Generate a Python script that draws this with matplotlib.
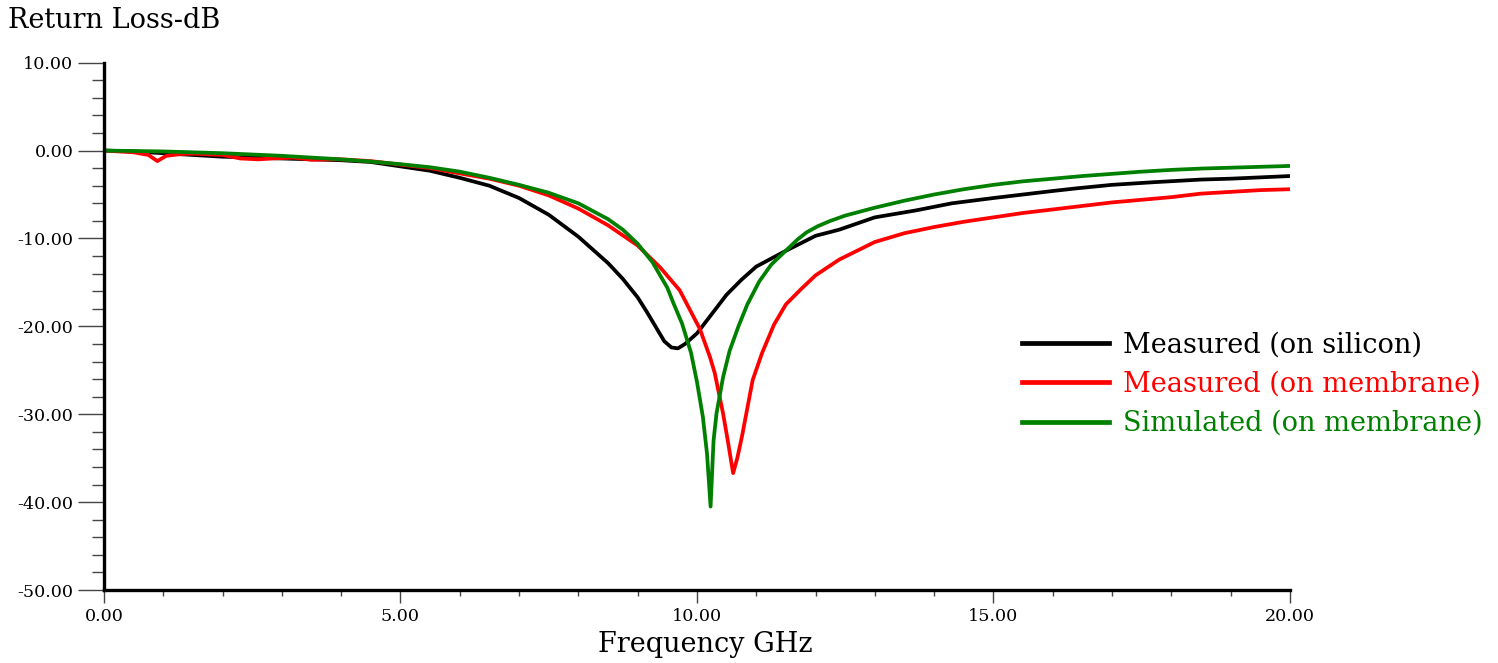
import matplotlib
matplotlib.use("Agg")
import matplotlib.pyplot as plt
from matplotlib.ticker import MultipleLocator, FormatStrFormatter

plt.rcParams['font.family'] = ['DejaVu Serif']

# Measured return loss, sample on silicon
freq_si = [0.0, 0.5, 1.0, 1.5, 2.0, 2.5, 3.0, 3.5, 4.0, 4.5, 5.0, 5.5, 6.0, 6.5,
           7.0, 7.5, 8.0, 8.5, 8.75, 9.0, 9.15, 9.3, 9.45, 9.57, 9.68, 9.8, 10.0,
           10.25, 10.5, 10.75, 11.0, 11.5, 12.0, 12.4, 13.0, 13.7, 14.3, 15.0,
           15.5, 16.0, 16.4, 17.0, 17.7, 18.5, 19.0, 20.0]
s11_si = [0.0, -0.1, -0.3, -0.5, -0.7, -0.8, -0.9, -1.0, -1.1, -1.3, -1.8, -2.3,
          -3.1, -4.0, -5.4, -7.3, -9.8, -12.8, -14.6, -16.7, -18.3, -20.0, -21.7,
          -22.4, -22.5, -22.0, -20.8, -18.6, -16.4, -14.7, -13.2, -11.4, -9.7,
          -9.0, -7.6, -6.8, -6.0, -5.4, -5.0, -4.6, -4.3, -3.9, -3.6, -3.3, -3.2,
          -2.9]

# Measured return loss, sample on membrane
freq_mem = [0.0, 0.5, 0.75, 0.9, 1.05, 1.3, 1.5, 2.0, 2.3, 2.6, 2.85, 3.2, 3.5,
            3.8, 4.0, 4.5, 5.0, 5.5, 6.0, 6.5, 7.0, 7.5, 8.0, 8.5, 9.0, 9.38,
            9.71, 10.05, 10.22, 10.3, 10.44, 10.52, 10.61, 10.68, 10.76, 10.94,
            11.1, 11.3, 11.5, 11.75, 12.0, 12.4, 13.0, 13.5, 14.0, 14.5, 15.0,
            15.5, 16.0, 16.5, 17.0, 17.5, 18.0, 18.5, 19.0, 19.5, 20.0]
s11_mem = [0.0, -0.2, -0.5, -1.2, -0.6, -0.4, -0.35, -0.5, -0.9, -1.0, -0.9, -0.8,
           -1.05, -1.0, -1.0, -1.2, -1.6, -2.0, -2.6, -3.2, -4.0, -5.1, -6.6,
           -8.5, -10.8, -13.3, -15.9, -20.3, -23.5, -25.3, -29.9, -33.0, -36.7,
           -35.0, -32.5, -26.1, -23.0, -19.8, -17.5, -15.8, -14.2, -12.4, -10.4,
           -9.4, -8.7, -8.1, -7.6, -7.1, -6.7, -6.3, -5.9, -5.6, -5.3, -4.9,
           -4.7, -4.5, -4.4]

# Simulated return loss, membrane
freq_sim = [0.0, 0.5, 1.0, 1.5, 2.0, 2.5, 3.0, 3.5, 4.0, 4.5, 5.0, 5.5, 6.0, 6.5,
            7.0, 7.5, 8.0, 8.5, 8.75, 9.0, 9.25, 9.5, 9.6, 9.75, 9.9, 10.0, 10.1,
            10.17, 10.23, 10.28, 10.33, 10.44, 10.55, 10.7, 10.85, 11.05, 11.25,
            11.45, 11.7, 11.85, 12.04, 12.25, 12.5, 13.0, 13.5, 14.0, 14.5, 15.0,
            15.5, 16.0, 16.5, 17.0, 17.5, 18.0, 18.5, 19.0, 19.5, 20.0]
s11_sim = [0.0, -0.05, -0.1, -0.2, -0.3, -0.45, -0.6, -0.8, -1.0, -1.25, -1.55,
           -1.9, -2.4, -3.1, -3.9, -4.8, -6.0, -7.8, -9.0, -10.6, -12.7, -15.6,
           -17.3, -19.7, -23.0, -26.3, -30.3, -34.5, -40.5, -33.0, -29.9, -25.8,
           -22.8, -20.0, -17.5, -14.9, -13.0, -11.7, -10.1, -9.3, -8.6, -8.0,
           -7.4, -6.5, -5.7, -5.0, -4.4, -3.9, -3.5, -3.2, -2.9, -2.65, -2.4,
           -2.2, -2.05, -1.95, -1.85, -1.75]

series_labels = ["Measured (on silicon)", "Measured (on membrane)",
                 "Simulated (on membrane)"]
series_colors = ["#000000", "#ff0000", "#008000"]

fig = plt.figure(figsize=(14.98, 6.63), dpi=100)
ax = fig.add_axes([0.0694, 0.110, 0.7917, 0.7955])

for (f, s), lab, col in zip([(freq_si, s11_si), (freq_mem, s11_mem),
                             (freq_sim, s11_sim)], series_labels, series_colors):
    ax.plot(f, s, color=col, lw=2.7, label=lab, solid_joinstyle='round')

ax.set_xlim(0, 20)
ax.set_ylim(-50, 10)

for side in ("top", "right"):
    ax.spines[side].set_visible(False)
for side in ("left", "bottom"):
    ax.spines[side].set_linewidth(2.4)
    ax.spines[side].set_color("black")

ax.xaxis.set_major_locator(MultipleLocator(5))
ax.xaxis.set_minor_locator(MultipleLocator(1))
ax.yaxis.set_major_locator(MultipleLocator(10))
ax.yaxis.set_minor_locator(MultipleLocator(2))
ax.xaxis.set_major_formatter(FormatStrFormatter("%.2f"))
ax.yaxis.set_major_formatter(FormatStrFormatter("%.2f"))

ax.tick_params(axis="y", which="major", direction="out", length=19, width=1,
               color="#444444", labelsize=12.6, pad=3)
ax.tick_params(axis="y", which="minor", direction="out", length=9, width=1,
               color="#444444")
ax.tick_params(axis="x", which="major", direction="out", length=9, width=1,
               color="#444444", labelsize=12.6, pad=4)
ax.tick_params(axis="x", which="minor", direction="out", length=4, width=1,
               color="#444444")

fig.text(0.0053, 0.99, "Return Loss-dB", fontsize=19.5, ha="left", va="top")
fig.text(0.4706, 0.008, "Frequency GHz", fontsize=19.5, ha="center", va="bottom")

leg = ax.legend(loc="upper left", bbox_to_anchor=(0.774, 0.490), frameon=False,
                fontsize=19.5, handlelength=3.2, handletextpad=0.55,
                labelspacing=0.45, labelcolor="linecolor", borderaxespad=0,
                borderpad=0)
for line in leg.get_lines():
    line.set_linewidth(3.4)

fig.savefig("out.png", dpi=100)
